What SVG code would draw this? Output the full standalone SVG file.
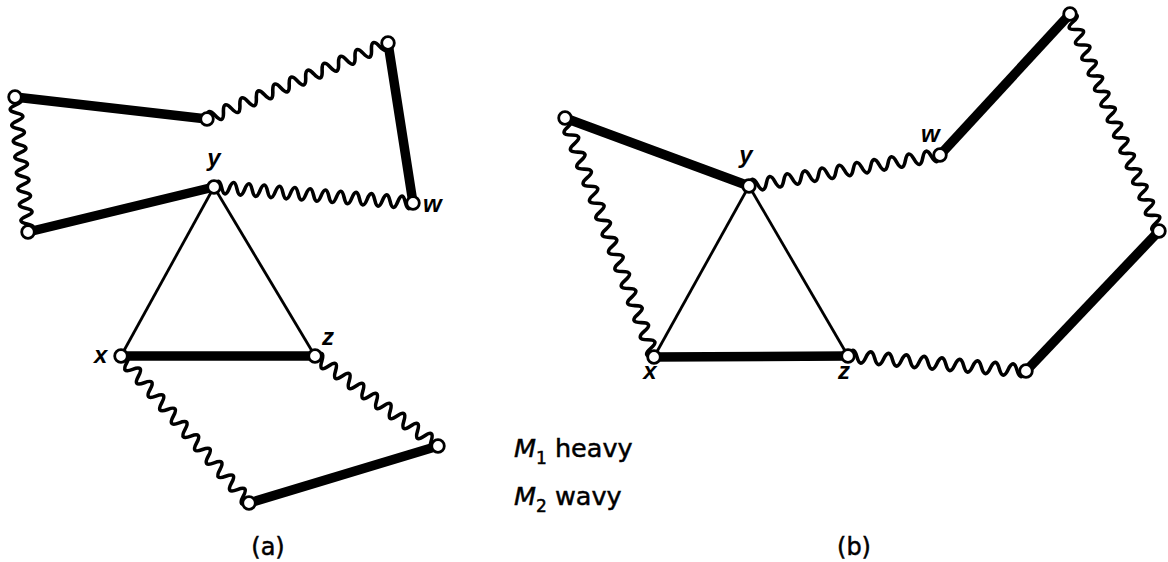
<svg xmlns="http://www.w3.org/2000/svg" width="1168" height="562" viewBox="0 0 1168 562">
<style>
.heavy{stroke:#000;stroke-width:9.5;fill:none}
.thin{stroke:#000;stroke-width:2.8;fill:none}
.wavy{stroke:#000;stroke-width:3.6;fill:none;stroke-linejoin:round}
.node{fill:#fff;stroke:#000;stroke-width:2.8}
.lbl{font-family:"Liberation Sans",sans-serif;font-style:italic;font-weight:bold;font-size:24px;fill:#000}
.cap{font-family:"DejaVu Sans",sans-serif;font-size:24px;fill:#000;stroke:#000;stroke-width:0.5}
.leg{font-family:"DejaVu Sans",sans-serif;font-size:25.5px;fill:#000;stroke:#000;stroke-width:0.5}
</style>
<rect width="1168" height="562" fill="#fff"/>
<g id="connectors">
<!-- (a) -->
<line class="heavy" x1="15" y1="97" x2="207" y2="119"/>
<path class="wavy" transform="translate(207,119) rotate(-22.78)" d="M0,0q4.46,-12 8.92,0t8.92,0 8.92,0 8.92,0 8.92,0 8.92,0 8.92,0 8.92,0 8.92,0 8.92,0 8.92,0 8.92,0 8.92,0 8.92,0 8.92,0 8.92,0 8.92,0 8.92,0 8.92,0 8.92,0 8.92,0 8.92,0"/>
<line class="heavy" x1="388" y1="43" x2="413" y2="203"/>
<path class="wavy" transform="translate(214,187) rotate(4.6)" d="M0,0q3.84,-12 7.68,0t7.68,0 7.68,0 7.68,0 7.68,0 7.68,0 7.68,0 7.68,0 7.68,0 7.68,0 7.68,0 7.68,0 7.68,0 7.68,0 7.68,0 7.68,0 7.68,0 7.68,0 7.68,0 7.68,0 7.68,0 7.68,0 7.68,0 7.68,0 7.68,0 7.68,0"/>
<line class="heavy" x1="214" y1="187" x2="28" y2="232"/>
<path class="wavy" transform="translate(15,97) rotate(84.5)" d="M0,0q3.99,-12 7.98,0t7.98,0 7.98,0 7.98,0 7.98,0 7.98,0 7.98,0 7.98,0 7.98,0 7.98,0 7.98,0 7.98,0 7.98,0 7.98,0 7.98,0 7.98,0 7.98,0"/>
<line class="thin" x1="214" y1="187" x2="121" y2="356"/>
<line class="thin" x1="214" y1="187" x2="315" y2="356"/>
<line class="heavy" x1="121" y1="356" x2="315" y2="356"/>
<path class="wavy" transform="translate(315,356) rotate(36.2)" d="M0,0q4.23,-12 8.47,0t8.47,0 8.47,0 8.47,0 8.47,0 8.47,0 8.47,0 8.47,0 8.47,0 8.47,0 8.47,0 8.47,0 8.47,0 8.47,0 8.47,0 8.47,0 8.47,0 8.47,0"/>
<path class="wavy" transform="translate(121,356) rotate(48.95)" d="M0,0q4.43,-12 8.86,0t8.86,0 8.86,0 8.86,0 8.86,0 8.86,0 8.86,0 8.86,0 8.86,0 8.86,0 8.86,0 8.86,0 8.86,0 8.86,0 8.86,0 8.86,0 8.86,0 8.86,0 8.86,0 8.86,0 8.86,0 8.86,0"/>
<line class="heavy" x1="249" y1="503" x2="438" y2="446"/>
<!-- (b) -->
<line class="heavy" x1="565" y1="118" x2="749" y2="186"/>
<path class="wavy" transform="translate(565,118) rotate(69.57)" d="M0,0q4.55,-12 9.1,0t9.1,0 9.1,0 9.1,0 9.1,0 9.1,0 9.1,0 9.1,0 9.1,0 9.1,0 9.1,0 9.1,0 9.1,0 9.1,0 9.1,0 9.1,0 9.1,0 9.1,0 9.1,0 9.1,0 9.1,0 9.1,0 9.1,0 9.1,0 9.1,0 9.1,0 9.1,0 9.1,0"/>
<line class="thin" x1="749" y1="186" x2="654" y2="357"/>
<line class="thin" x1="749" y1="186" x2="848" y2="356"/>
<line class="heavy" x1="654" y1="357" x2="848" y2="356"/>
<path class="wavy" transform="translate(749,186) rotate(-9.22)" d="M0,0q4.4,-12 8.8,0t8.8,0 8.8,0 8.8,0 8.8,0 8.8,0 8.8,0 8.8,0 8.8,0 8.8,0 8.8,0 8.8,0 8.8,0 8.8,0 8.8,0 8.8,0 8.8,0 8.8,0 8.8,0 8.8,0 8.8,0 8.8,0"/>
<line class="heavy" x1="940" y1="155" x2="1070" y2="14"/>
<path class="wavy" transform="translate(1070,14) rotate(67.7)" d="M0,0q4.19,-12 8.37,0t8.37,0 8.37,0 8.37,0 8.37,0 8.37,0 8.37,0 8.37,0 8.37,0 8.37,0 8.37,0 8.37,0 8.37,0 8.37,0 8.37,0 8.37,0 8.37,0 8.37,0 8.37,0 8.37,0 8.37,0 8.37,0 8.37,0 8.37,0 8.37,0 8.37,0 8.37,0 8.37,0"/>
<line class="heavy" x1="1159" y1="231" x2="1026" y2="371"/>
<path class="wavy" transform="translate(848,356) rotate(4.82)" d="M0,0q4.47,-12 8.93,0t8.93,0 8.93,0 8.93,0 8.93,0 8.93,0 8.93,0 8.93,0 8.93,0 8.93,0 8.93,0 8.93,0 8.93,0 8.93,0 8.93,0 8.93,0 8.93,0 8.93,0 8.93,0 8.93,0"/>
</g>
<!-- nodes (a) -->
<g id="a-n1"><circle class="node" cx="15" cy="97" r="6.3"/></g>
<g id="a-n2"><circle class="node" cx="207" cy="119" r="6.3"/></g>
<g id="a-n3"><circle class="node" cx="388" cy="43" r="6.3"/></g>
<g id="a-w"><circle class="node" cx="413" cy="203" r="6.3"/><text class="lbl" x="423" y="212">w</text></g>
<g id="a-y"><circle class="node" cx="214" cy="187" r="6.3"/><text class="lbl" x="214" y="166" text-anchor="middle">y</text></g>
<g id="a-n4"><circle class="node" cx="28" cy="232" r="6.3"/></g>
<g id="a-x"><circle class="node" cx="121" cy="356" r="6.3"/><text class="lbl" x="94" y="363">x</text></g>
<g id="a-z"><circle class="node" cx="315" cy="356" r="6.3"/><text class="lbl" x="322" y="345">z</text></g>
<g id="a-n5"><circle class="node" cx="438" cy="446" r="6.3"/></g>
<g id="a-n6"><circle class="node" cx="249" cy="503" r="6.3"/></g>
<!-- nodes (b) -->
<g id="b-n1"><circle class="node" cx="565" cy="118" r="6.3"/></g>
<g id="b-y"><circle class="node" cx="749" cy="186" r="6.3"/><text class="lbl" x="746" y="163" text-anchor="middle">y</text></g>
<g id="b-x"><circle class="node" cx="654" cy="357" r="6.3"/><text class="lbl" x="650" y="379" text-anchor="middle">x</text></g>
<g id="b-z"><circle class="node" cx="848" cy="356" r="6.3"/><text class="lbl" x="844" y="379" text-anchor="middle">z</text></g>
<g id="b-w"><circle class="node" cx="940" cy="155" r="6.3"/><text class="lbl" x="921" y="142">w</text></g>
<g id="b-n2"><circle class="node" cx="1070" cy="14" r="6.3"/></g>
<g id="b-n3"><circle class="node" cx="1159" cy="231" r="6.3"/></g>
<g id="b-n4"><circle class="node" cx="1026" cy="371" r="6.3"/></g>
<!-- legend and captions -->
<g id="legend">
<text class="leg" x="514" y="457"><tspan font-style="italic">M</tspan><tspan font-size="17" dy="7">1</tspan><tspan dy="-7"> heavy</tspan></text>
<text class="leg" x="514" y="505"><tspan font-style="italic">M</tspan><tspan font-size="17" dy="7">2</tspan><tspan dy="-7"> wavy</tspan></text>
</g>
<text class="cap" x="268" y="555" text-anchor="middle">(a)</text>
<text class="cap" x="854" y="555" text-anchor="middle">(b)</text>
</svg>
